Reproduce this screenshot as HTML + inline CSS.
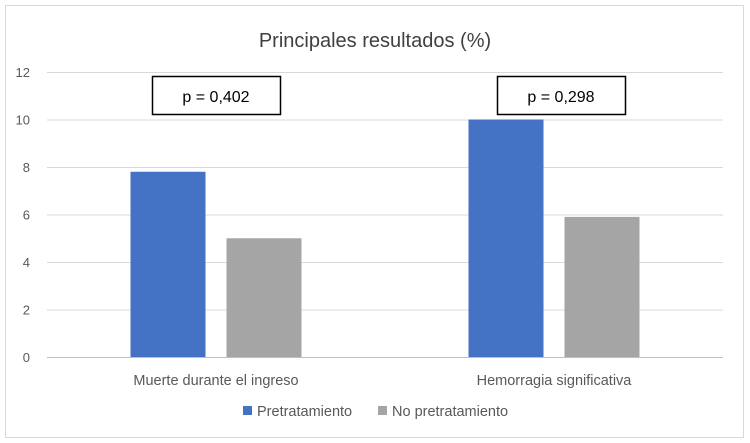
<!DOCTYPE html>
<html><head><meta charset="utf-8"><style>
body{margin:0;background:#fff;font-family:"Liberation Sans",sans-serif}
svg{display:block}
</style></head><body>
<svg width="750" height="443" xmlns="http://www.w3.org/2000/svg">
<rect x="5.5" y="5.5" width="738" height="432" fill="#fff" stroke="#d9d9d9"/>
<text x="375" y="47" text-anchor="middle" font-size="20" fill="#404040">Principales resultados (%)</text>
<g id="grid"></g><g id="bars"></g><g id="labels"></g>
<g>
<rect x="243" y="406" width="9" height="9" fill="#4472c4"/>
<text x="257" y="416" font-size="14.5" fill="#595959">Pretratamiento</text>
<rect x="378" y="406" width="9" height="9" fill="#a5a5a5"/>
<text x="392" y="416" font-size="14.5" fill="#595959">No pretratamiento</text>
</g>
</svg>
<script>
const categories=["Muerte durante el ingreso","Hemorragia significativa"];
const pretratamiento=[7.8,10];
const noPretratamiento=[5.0,5.9];
const pValues=["p = 0,402","p = 0,298"];
const ticks=[0,2,4,6,8,10,12];
const NS="http://www.w3.org/2000/svg";
const x0=47,x1=723,yTop=72,yBot=357,maxV=12;
const y=v=>yBot-(v/maxV)*(yBot-yTop);
const bandW=(x1-x0)/categories.length;
const cx=i=>x0+bandW*(i+0.5);
const boxShift=[0,7];
function mk(tag,attrs,parent){const e=document.createElementNS(NS,tag);for(const k in attrs)e.setAttribute(k,attrs[k]);parent.appendChild(e);return e;}
const grid=document.getElementById('grid'),bars=document.getElementById('bars'),labels=document.getElementById('labels');
ticks.forEach(t=>{
 const l=mk('line',{x1:x0,x2:x1,y1:y(t)+0.5,y2:y(t)+0.5,stroke:t===0?'#bfbfbf':'#d9d9d9'},grid);
 
 
 const tx=mk('text',{x:30,y:y(t)+5,'text-anchor':'end','font-size':13,fill:'#595959'},grid);
 tx.textContent=t;
 
 
});
const bw=75,gap=21;
categories.forEach((c,i)=>{
 const b1=mk('rect',{x:cx(i)-gap/2-bw,y:y(pretratamiento[i]),width:bw,height:yBot-y(pretratamiento[i]),fill:'#4472c4'},bars);
 
 
 const b2=mk('rect',{x:cx(i)+gap/2,y:y(noPretratamiento[i]),width:bw,height:yBot-y(noPretratamiento[i]),fill:'#a5a5a5'},bars);
 
 
 const t=mk('text',{x:cx(i),y:385,'text-anchor':'middle','font-size':14.5,fill:'#595959'},labels);
 t.textContent=c;
 
 
 const bc=cx(i)+boxShift[i];
 const bx=mk('rect',{x:bc-63.5,y:76.5,width:128,height:38,fill:'#fff',stroke:'#000','stroke-width':1.5},labels);
 
 
 const pt=mk('text',{x:bc,y:102,'text-anchor':'middle','font-size':16,fill:'#000'},labels);
 pt.textContent=pValues[i];
 
 
});
</script>
</body></html>
